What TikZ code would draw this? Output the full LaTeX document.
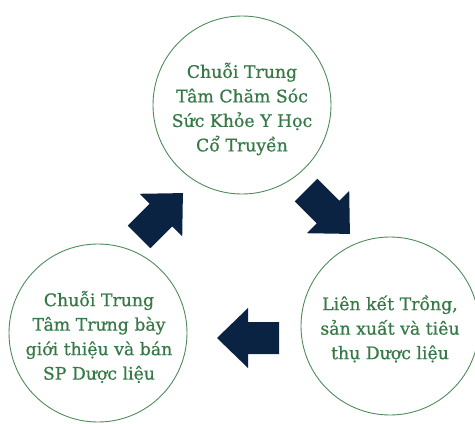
\documentclass[tikz,border=0pt]{standalone}
\usepackage{fontspec}
\setmainfont{DejaVu Serif}
\newfontfamily\lblfont[RawFeature={embolden=0.7}]{DejaVu Serif}
\definecolor{leafgreen}{HTML}{357A46}
\definecolor{ringgreen}{HTML}{4E8C5A}
\definecolor{navyblk}{HTML}{0B2342}
\tikzset{
  ring/.style={circle, draw=ringgreen, line width=0.9pt, minimum size=178pt, inner sep=0pt},
  label/.style={text=leafgreen, align=center, font=\lblfont\fontsize{17.3}{24.5}\selectfont},
  blockarrow/.style={fill=navyblk, draw=none}
}
\newcommand{\blockarr}[3]{%
  \begin{scope}[shift={(#1,#2)}, rotate=#3]
    \fill[blockarrow] (-31,-16) -- (0,-16) -- (0,-30) -- (31,0) -- (0,30) -- (0,16) -- (-31,16) -- cycle;
  \end{scope}}
\begin{document}
\begin{tikzpicture}[x=1pt, y=-1pt]
\useasboundingbox (0,0) rectangle (475,424);
\node[ring] (top) at (242,105) {};
\node[ring] (left) at (98,333) {};
\node[ring] (right) at (390,326) {};
\node[label] (toptext) at (242,109) {Chuỗi Trung\\Tâm Chăm Sóc\\Sức Khỏe Y Học\\Cổ Truyền};
\node[label] (lefttext) at (99,337) {Chuỗi Trung\\Tâm Trưng bày\\giới thiệu và bán\\SP Dược liệu};
\node[label] (righttext) at (390,329) {Liên kết Trồng,\\sản xuất và tiêu\\thụ Dược liệu};
% arrows: y axis points down, so rotate angles are mirrored
\blockarr{161}{215}{45}
\blockarr{328}{212}{-45}
\blockarr{248}{338}{180}
\end{tikzpicture}
\end{document}
